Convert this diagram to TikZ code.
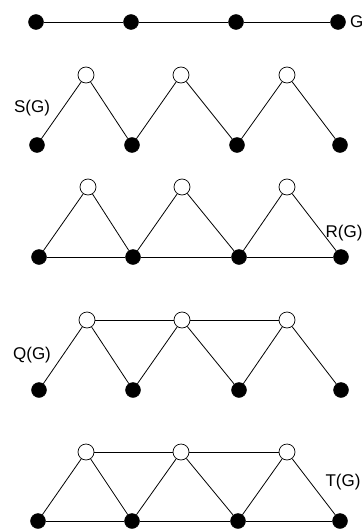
\documentclass[tikz,border=0pt]{standalone}
\usepackage{fontspec}
\setmainfont{Liberation Sans}
\begin{document}
\begin{tikzpicture}[x=1pt,y=-1pt,
  bv/.style={circle,fill=black,draw=black,inner sep=0pt,minimum size=15pt},
  wv/.style={circle,fill=white,draw=black,line width=0.7pt,inner sep=0pt,minimum size=16pt},
  edge/.style={line width=0.8pt},
  lbl/.style={font=\fontsize{17}{20}\selectfont,inner sep=0pt}]
\useasboundingbox (0,0) rectangle (364,530);

% G: a path on four vertices
\node[bv] (g1) at (36,22) {};
\node[bv] (g2) at (131,22) {};
\node[bv] (g3) at (236,22) {};
\node[bv] (g4) at (338,22) {};
\node[lbl,anchor=west] (gl) at (350,22) {G};
\draw[edge] (g1) -- (g2) -- (g3) -- (g4);

% S(G): subdivision graph
\node[bv] (s1) at (37,145) {};
\node[bv] (s2) at (132,145) {};
\node[bv] (s3) at (237,145) {};
\node[bv] (s4) at (340,145) {};
\node[wv] (sa) at (86,75) {};
\node[wv] (sb) at (181,75) {};
\node[wv] (sc) at (287,75) {};
\node[lbl] (sl) at (32,108) {S(G)};
\draw[edge] (s1) -- (sa) -- (s2) -- (sb) -- (s3) -- (sc) -- (s4);

% R(G)
\node[bv] (r1) at (39,257) {};
\node[bv] (r2) at (133,257) {};
\node[bv] (r3) at (239,257) {};
\node[bv] (r4) at (341,257) {};
\node[wv] (ra) at (88,187) {};
\node[wv] (rb) at (182,187) {};
\node[wv] (rc) at (287,187) {};
\node[lbl] (rl) at (344,233) {R(G)};
\draw[edge] (r1) -- (ra) -- (r2) -- (rb) -- (r3) -- (rc) -- (r4);
\draw[edge] (r1) -- (r2) -- (r3) -- (r4);

% Q(G)
\node[bv] (q1) at (39,390) {};
\node[bv] (q2) at (133,390) {};
\node[bv] (q3) at (239,390) {};
\node[bv] (q4) at (341,390) {};
\node[wv] (qa) at (87,320) {};
\node[wv] (qb) at (182,320) {};
\node[wv] (qc) at (287,320) {};
\node[lbl] (ql) at (32,355) {Q(G)};
\draw[edge] (q1) -- (qa) -- (q2) -- (qb) -- (q3) -- (qc) -- (q4);
\draw[edge] (qa) -- (qb) -- (qc);

% T(G): total graph
\node[bv] (t1) at (38,521) {};
\node[bv] (t2) at (132,521) {};
\node[bv] (t3) at (238,521) {};
\node[bv] (t4) at (340,521) {};
\node[wv] (ta) at (86,452) {};
\node[wv] (tb) at (181,452) {};
\node[wv] (tc) at (287,452) {};
\node[lbl] (tl) at (343,482) {T(G)};
\draw[edge] (t1) -- (ta) -- (t2) -- (tb) -- (t3) -- (tc) -- (t4);
\draw[edge] (ta) -- (tb) -- (tc);
\draw[edge] (t1) -- (t2) -- (t3) -- (t4);
\end{tikzpicture}
\end{document}
